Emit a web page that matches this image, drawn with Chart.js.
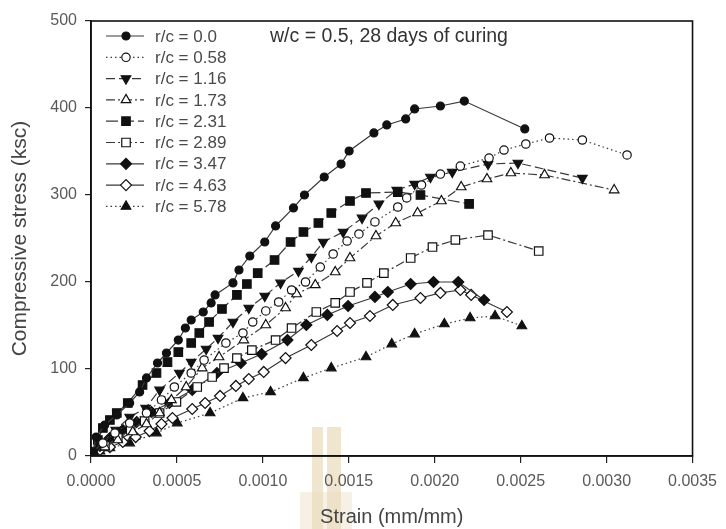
<!DOCTYPE html>
<html>
<head>
<meta charset="utf-8">
<script src="https://cdn.jsdelivr.net/npm/chart.js@4/dist/chart.umd.min.js"></script>
<style>
  html, body { margin: 0; padding: 0; background: #fff; }
  canvas { display: block; }
</style>
</head>
<body>
<canvas id="chart" width="726" height="529"></canvas>
<script>
// stress-strain curves, one per rubber/cement ratio
const seriesLabels = ['r/c = 0.0', 'r/c = 0.58', 'r/c = 1.16', 'r/c = 1.73', 'r/c = 2.31',
    'r/c = 2.89', 'r/c = 3.47', 'r/c = 4.63', 'r/c = 5.78'];

const strain00 = [0.00001, 0.00003, 0.00008, 0.00015, 0.000225, 0.000283, 0.000323, 0.000387, 0.000439, 0.000508,
    0.000549, 0.000583, 0.000653, 0.000699, 0.000722, 0.000826, 0.000861, 0.000924, 0.001011, 0.001074,
    0.001178, 0.001242, 0.001357, 0.001455, 0.001502, 0.001646, 0.001721, 0.001831, 0.001883, 0.002033,
    0.002172, 0.002524];
const stress00 = [4.6, 21.8, 35.6, 47.1, 60.9, 73.6, 89.7, 106.9, 118.4, 133.3,
    147.1, 156.3, 165.5, 175.9, 185.1, 198.9, 213.8, 229.9, 246.0, 264.4,
    285.1, 300.0, 320.7, 335.6, 350.6, 371.3, 380.5, 387.4, 398.9, 402.3,
    408.0, 375.9];

const strain058 = [0.000012, 0.000069, 0.000139, 0.000225, 0.000323, 0.00041, 0.000485, 0.000583, 0.000658, 0.000785,
    0.000884, 0.000941, 0.001017, 0.001092, 0.001167, 0.001248, 0.001334, 0.001409, 0.00149, 0.001559,
    0.001652, 0.001785, 0.001837, 0.001923, 0.002033, 0.002149, 0.002316, 0.002403, 0.00253, 0.002668,
    0.002859, 0.003119];
const stress058 = [4.6, 14.9, 26.4, 37.9, 49.4, 64.4, 79.3, 95.4, 110.3, 129.9,
    141.4, 154.0, 166.7, 177.0, 190.8, 200.0, 217.2, 232.2, 247.1, 255.2,
    269.0, 286.2, 296.6, 311.5, 324.1, 333.3, 342.5, 351.7, 358.6, 365.5,
    363.2, 346.0];

const strain116 = [0.000012, 0.000069, 0.000144, 0.000225, 0.000318, 0.000399, 0.000514, 0.000583, 0.00067, 0.000739,
    0.000826, 0.000918, 0.001011, 0.001103, 0.001207, 0.001282, 0.001351, 0.001467, 0.001577, 0.001675,
    0.001779, 0.001883, 0.001975, 0.002102, 0.00231, 0.002484, 0.002859];
const stress116 = [4.6, 16.1, 29.9, 44.8, 55.2, 75.9, 95.4, 108.0, 123.0, 135.6,
    154.0, 170.1, 183.9, 198.9, 212.6, 228.7, 246.0, 257.5, 273.6, 289.7,
    305.7, 312.6, 320.7, 326.4, 335.6, 336.8, 319.5];

const strain173 = [0.000012, 0.000081, 0.000156, 0.000243, 0.000323, 0.000399, 0.000468, 0.000554, 0.000647, 0.000745,
    0.000889, 0.001017, 0.001132, 0.001196, 0.001305, 0.001421, 0.001507, 0.001658, 0.001773, 0.0019,
    0.002039, 0.002154, 0.002304, 0.002443, 0.002639, 0.003044];
const stress173 = [3.4, 10.3, 18.4, 27.6, 36.8, 49.4, 64.4, 79.3, 101.1, 113.8,
    133.3, 150.6, 170.1, 186.2, 196.6, 211.5, 227.6, 252.9, 267.8, 279.3,
    293.1, 309.2, 318.4, 325.3, 323.0, 305.7];

const strain231 = [0.000006, 0.00004, 0.000069, 0.00011, 0.00015, 0.000214, 0.0003, 0.000381, 0.000445, 0.000508,
    0.000583, 0.00063, 0.000687, 0.000762, 0.000849, 0.000907, 0.00097, 0.001068, 0.001161, 0.001236,
    0.001323, 0.001398, 0.001507, 0.0016, 0.001785, 0.001917, 0.0022];
const stress231 = [4.6, 18.4, 32.2, 41.4, 49.4, 60.9, 81.6, 95.4, 108.0, 119.5,
    129.9, 141.4, 154.0, 169.0, 185.1, 197.7, 210.3, 225.3, 246.0, 257.5,
    267.8, 279.3, 293.1, 302.3, 303.4, 300.0, 289.7];

const strain289 = [0.000012, 0.000081, 0.000156, 0.000231, 0.000312, 0.000399, 0.000497, 0.000618, 0.000705, 0.000774,
    0.000849, 0.000936, 0.001074, 0.001167, 0.001311, 0.001421, 0.001507, 0.001606, 0.001704, 0.00186,
    0.001987, 0.00212, 0.00231, 0.002605];
const stress289 = [3.4, 11.5, 20.7, 29.9, 40.2, 49.4, 62.1, 79.3, 90.8, 101.1,
    112.6, 121.8, 133.3, 147.1, 165.5, 175.9, 188.5, 198.9, 210.3, 227.6,
    240.2, 248.3, 254.0, 235.6];

const strain347 = [0.000006, 0.000052, 0.00011, 0.000185, 0.000266, 0.000352, 0.000456, 0.000589, 0.000733, 0.000872,
    0.000993, 0.001143, 0.001253, 0.001375, 0.001496, 0.001652, 0.001727, 0.00186, 0.001993, 0.002137,
    0.002287];
const stress347 = [3.4, 11.5, 20.7, 29.9, 39.1, 50.6, 60.9, 75.9, 95.4, 106.9,
    117.2, 133.3, 150.6, 162.1, 172.4, 182.8, 188.5, 197.7, 200.0, 200.0,
    179.3];

const strain463 = [0.000006, 0.000052, 0.00011, 0.000185, 0.00026, 0.000341, 0.00041, 0.000474, 0.000589, 0.000664,
    0.000751, 0.000843, 0.000918, 0.001005, 0.001132, 0.001282, 0.001432, 0.001507, 0.001623, 0.001756,
    0.001917, 0.002033, 0.002149, 0.002212, 0.00242];
const stress463 = [2.3, 6.9, 10.3, 16.1, 21.8, 28.7, 36.8, 43.7, 54.0, 60.9,
    69.0, 80.5, 88.5, 96.6, 112.6, 127.6, 143.7, 152.9, 160.9, 173.6,
    181.6, 187.4, 190.8, 185.1, 165.5];

const strain578 = [0.000006, 0.000052, 0.00011, 0.000225, 0.000381, 0.000502, 0.000693, 0.000884, 0.001045, 0.001236,
    0.001398, 0.0016, 0.00175, 0.001883, 0.002056, 0.002206, 0.002351, 0.002507];
const stress578 = [2.3, 5.7, 9.2, 14.9, 26.4, 37.9, 49.4, 66.7, 73.6, 89.7,
    101.1, 113.8, 128.7, 140.2, 151.7, 158.6, 160.9, 149.4];

const strainSeries = [strain00, strain058, strain116, strain173, strain231, strain289, strain347, strain463, strain578];
const stressSeries = [stress00, stress058, stress116, stress173, stress231, stress289, stress347, stress463, stress578];

const xTicks = [0, 0.0005, 0.001, 0.0015, 0.002, 0.0025, 0.003, 0.0035];
const yTicks = [0, 100, 200, 300, 400, 500];

const FONT = '"Liberation Sans", Arial, sans-serif';
const LINE = '#3a3a3a';
const INK = '#111';
const TEXT = '#4a4a4a';

// marker + line style for each curve
const styles = [
    { point: 'circle', rot: 0, r: 4, fill: true, dash: [] },
    { point: 'circle', rot: 0, r: 4.2, fill: false, dash: [1.5, 3] },
    { point: 'triangle', rot: 180, r: 5.5, fill: true, dash: [9, 4] },
    { point: 'triangle', rot: 0, r: 5.5, fill: false, dash: [9, 3, 2, 3] },
    { point: 'rect', rot: 0, r: 6, fill: true, dash: [12, 4] },
    { point: 'rect', rot: 0, r: 6, fill: false, dash: [9, 3, 2, 3] },
    { point: 'rectRot', rot: 0, r: 5.5, fill: true, dash: [] },
    { point: 'rectRot', rot: 0, r: 5.5, fill: false, dash: [] },
    { point: 'triangle', rot: 0, r: 5.5, fill: true, dash: [1.5, 3] }
];

function getDataset(i) {
    let st = styles[i];
    let pts = strainSeries[i].map((x, k) => ({ x: x, y: stressSeries[i][k] }));
    return {
        label: seriesLabels[i],
        data: pts,
        showLine: true,
        borderColor: LINE,
        borderWidth: 1.2,
        borderDash: st.dash,
        pointStyle: st.point,
        rotation: st.rot,
        pointRadius: st.r,
        pointBorderColor: INK,
        pointBackgroundColor: st.fill ? INK : '#fff',
        pointBorderWidth: 1.2,
        tension: 0
    };
}

// frame, legend and the note in the top of the plot
const decorPlugin = {
    id: 'decor',
    beforeDraw(chart) {
        let ctx = chart.ctx;
        ctx.save();
        // faint tan emblem behind the axis title
        ctx.fillStyle = 'rgba(226, 204, 160, 0.5)';
        ctx.fillRect(312, 427, 11, 102);
        ctx.fillRect(327, 427, 14, 102);
        ctx.fillStyle = 'rgba(236, 220, 190, 0.4)';
        ctx.fillRect(300, 492, 52, 37);
        ctx.restore();
    },
    afterDatasetsDraw(chart) {
        let ctx = chart.ctx;
        let a = chart.chartArea;
        ctx.save();
        ctx.strokeStyle = '#111';
        ctx.lineWidth = 1.6;
        ctx.strokeRect(a.left, a.top, a.right - a.left, a.bottom - a.top);

        // legend rows
        for (let i = 0; i < seriesLabels.length; i++) {
            let st = styles[i];
            let y = 36 + 21.3 * i;
            ctx.strokeStyle = LINE;
            ctx.lineWidth = 1.2;
            ctx.setLineDash(st.dash);
            ctx.beginPath();
            ctx.moveTo(106, y);
            ctx.lineTo(144, y);
            ctx.stroke();
            ctx.setLineDash([]);
            ctx.fillStyle = st.fill ? INK : '#fff';
            ctx.strokeStyle = INK;
            Chart.helpers.drawPoint(ctx, { pointStyle: st.point, rotation: st.rot, radius: st.r, borderWidth: 1.2 }, 126, y);
            ctx.fillStyle = TEXT;
            ctx.font = '17px ' + FONT;
            ctx.textAlign = 'left';
            ctx.textBaseline = 'middle';
            ctx.fillText(seriesLabels[i], 155, y + 1);
        }

        ctx.fillStyle = '#333';
        ctx.font = '19.5px ' + FONT;
        ctx.textAlign = 'left';
        ctx.textBaseline = 'middle';
        ctx.fillText('w/c = 0.5, 28 days of curing', 270, 37);
        ctx.restore();
    }
};

const config = {
    type: 'scatter',
    data: { datasets: seriesLabels.map((_, i) => getDataset(i)) },
    options: {
        responsive: false,
        animation: false,
        devicePixelRatio: 1,
        layout: { padding: { left: 0, right: 29, top: 21, bottom: 0 } },
        plugins: { legend: { display: false }, tooltip: { enabled: false } },
        scales: {
            x: {
                type: 'linear',
                min: 0,
                max: 0.0035,
                afterBuildTicks: s => { s.ticks = xTicks.map(v => ({ value: v })); },
                afterFit: s => { s.height = 73; },
                ticks: {
                    callback: v => v.toFixed(4),
                    color: '#5a5a5a',
                    font: { family: FONT, size: 16 },
                    padding: 9,
                    maxRotation: 0
                },
                grid: { drawOnChartArea: false, drawTicks: true, tickLength: 7, color: '#222', lineWidth: 1.2 },
                border: { color: '#111', width: 1.6 },
                title: {
                    display: true,
                    text: 'Strain (mm/mm)',
                    color: '#444',
                    font: { family: FONT, size: 20 },
                    padding: { top: 2, bottom: 0 }
                }
            },
            y: {
                type: 'linear',
                min: 0,
                max: 500,
                afterBuildTicks: s => { s.ticks = yTicks.map(v => ({ value: v })); },
                afterFit: s => { s.width = 91; },
                ticks: {
                    color: '#5a5a5a',
                    font: { family: FONT, size: 16 },
                    padding: 8
                },
                grid: { drawOnChartArea: false, drawTicks: true, tickLength: 6, color: '#222', lineWidth: 1.2 },
                border: { color: '#111', width: 1.6 },
                title: {
                    display: true,
                    text: 'Compressive stress (ksc)',
                    color: '#444',
                    font: { family: FONT, size: 21 },
                    padding: { top: 8, bottom: 0 }
                }
            }
        }
    },
    plugins: [decorPlugin]
};

new Chart(document.getElementById('chart'), config);
</script>
</body>
</html>
